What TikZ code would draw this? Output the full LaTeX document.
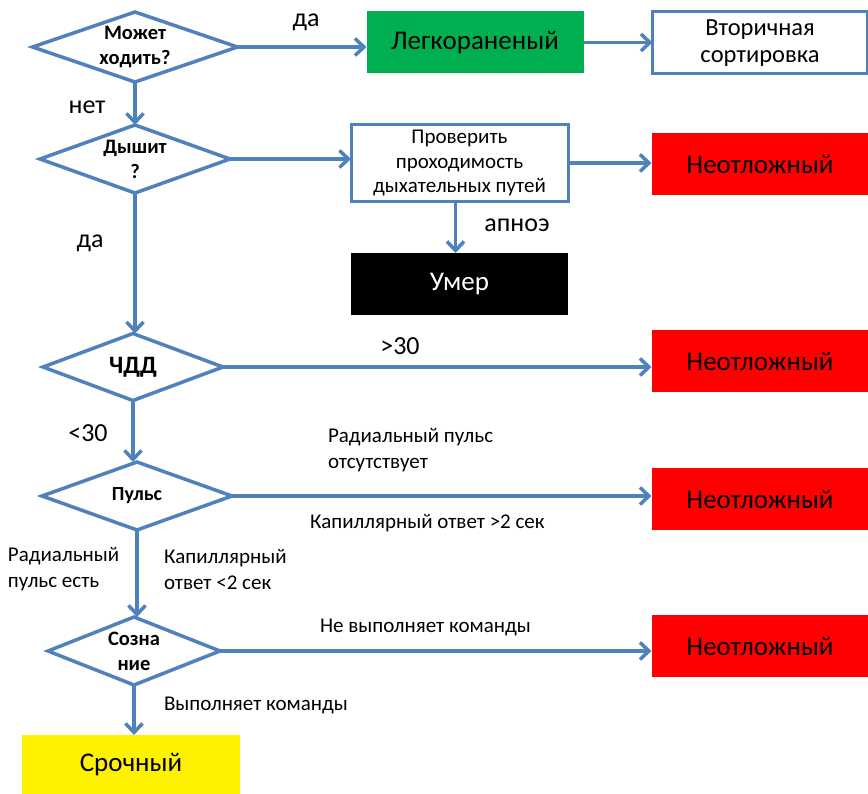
\documentclass[tikz,border=0pt]{standalone}
\usepackage{fontspec}
\setmainfont{Carlito}
\usetikzlibrary{shapes.geometric,arrows.meta}
\definecolor{flowblue}{RGB}{79,129,189}
\definecolor{okgreen}{RGB}{0,176,80}
\newcommand\fsz[2]{\fontsize{#1}{#2}\selectfont}
\begin{document}
\begin{tikzpicture}[x=1pt,y=-1pt,
  every node/.style={inner sep=0pt,outer sep=0pt},
  every label/.style={inner sep=0pt,align=center,font=\fsz{20.5}{25}\bfseries},
  link/.style={draw=flowblue,line width=3.5pt,-{Straight Barb[length=9pt,width=17pt]}},
  query/.style={diamond,draw=flowblue,line width=3.5pt,fill=white},
  outcome/.style={rectangle,minimum width=217pt,minimum height=62pt,font=\fsz{27}{32}},
  framed/.style={rectangle,draw=flowblue,line width=3pt,fill=white,align=center},
  lbl/.style={font=\fsz{26}{30}},
  note/.style={font=\fsz{21}{26},align=left}
]
\useasboundingbox (0,0) rectangle (868,794);

% decision diamonds, fixed size, question set at the centre
\node[query,minimum width=205pt,minimum height=70pt,label={center:Может\\ходить?}] (walk) at (135,47) {};
\node[query,minimum width=190pt,minimum height=68pt,label={center:Дышит\\?}] (breath) at (135,159) {};
\node[query,minimum width=180pt,minimum height=67pt,label={[font=\fsz{25}{30}\bfseries]center:ЧДД}] (rate) at (133,367) {};
\node[query,minimum width=190pt,minimum height=68pt,label={[font=\fsz{20}{24}\bfseries]center:Пульс}] (pulse) at (137,496) {};
\node[query,minimum width=172pt,minimum height=68pt,label={center:Созна\\ние}] (mind) at (134,651) {};

% outcome boxes
\node[outcome,fill=okgreen] (minor) at (475,42.5) {Легкораненый};
\node[framed,minimum width=215pt,minimum height=62pt,font=\fsz{24.5}{27}] (second) at (760,43) {Вторичная\\сортировка};
\node[framed,minimum width=217pt,minimum height=77pt,font=\fsz{21}{24.5}] (airway) at (459.5,163) {Проверить\\проходимость\\дыхательных путей};
\node[outcome,fill=black,text=white] (dead) at (459.5,284) {Умер};
\node[outcome,fill=red] (urg1) at (760,164) {Неотложный};
\node[outcome,fill=red] (urg2) at (760,361) {Неотложный};
\node[outcome,fill=red] (urg3) at (760,499) {Неотложный};
\node[outcome,fill=red] (urg4) at (760,646) {Неотложный};
\node[outcome,fill=yellow,minimum width=218pt,minimum height=60pt] (delayed) at (131,765) {Срочный};

% connectors
\draw[link] (walk.east) -- (walk.east -| minor.west);
\draw[link] (minor.east) -- (minor.east -| second.west);
\draw[link] (walk.south) -- (breath.north);
\draw[link] (breath.east) -- (breath.east -| airway.west);
\draw[link] (airway.east) -- (airway.east -| urg1.west);
\draw[link] (airway.south -| dead.north) ++(-4,0) coordinate (apnoe) -- (apnoe |- dead.north);
\draw[link] (breath.south) -- (breath.south |- rate.north);
\draw[link] (rate.east) -- (rate.east -| urg2.west);
\draw[link] (rate.south) -- (rate.south |- pulse.north);
\draw[link] (pulse.east) -- (pulse.east -| urg3.west);
\draw[link] (pulse.south) -- (pulse.south |- mind.north);
\draw[link] (mind.east) -- (mind.east -| urg4.west);
\draw[link] (mind.south) -- (mind.south |- delayed.north);

% branch labels
\node[lbl] (yes1) at (306,22) {да};
\node[lbl] (no1) at (87,107) {нет};
\node[lbl] (apn) at (517,225) {апноэ};
\node[lbl] (yes2) at (90,243) {да};
\node[lbl] (hi) at (400,346) {>30};
\node[lbl] (lo) at (88,433) {<30};
\node[note,anchor=west] (radnone) at (328,450) {Радиальный пульс\\отсутствует};
\node[note,anchor=west] (capslow) at (310,523) {Капиллярный ответ >2 сек};
\node[note,anchor=west] (radyes) at (8,569) {Радиальный\\пульс есть};
\node[note,anchor=west] (capfast) at (164,569) {Капиллярный\\ответ <2 сек};
\node[note,anchor=west] (nocmd) at (320,627) {Не выполняет команды};
\node[note,anchor=west] (cmd) at (164,705) {Выполняет команды};
\end{tikzpicture}
\end{document}
